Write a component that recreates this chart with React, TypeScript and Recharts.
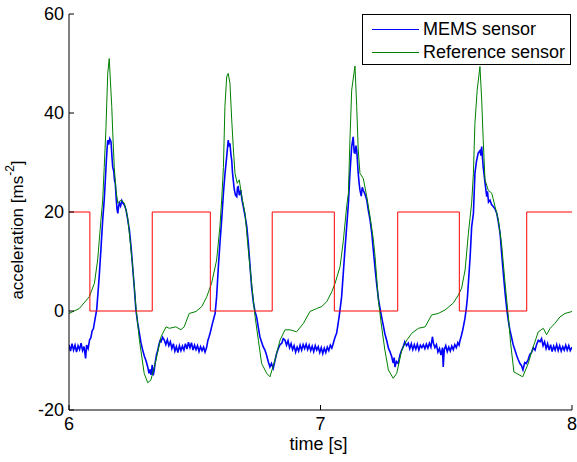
import { LineChart, Line, XAxis, YAxis, Label } from 'recharts';

// time [s] / acceleration [ms^-2]

// stimulus square wave (red)
const stimT = [6.0, 6.083, 6.331, 6.562, 6.808, 7.055, 7.307, 7.552, 7.82, 8.0];
const stimV = [20, 0, 20, 0, 20, 0, 20, 0, 20, 20];

// reference sensor (green)
const refT = [
  6.0, 6.041, 6.081, 6.101, 6.114, 6.127, 6.134, 6.14, 6.147, 6.154,
  6.16, 6.17, 6.174, 6.18, 6.187, 6.194, 6.207, 6.22, 6.233, 6.24,
  6.253, 6.266, 6.28, 6.299, 6.313, 6.326, 6.346, 6.366, 6.386, 6.399,
  6.425, 6.445, 6.458, 6.478, 6.505,
  6.528, 6.548, 6.567, 6.587, 6.6, 6.607, 6.614, 6.62, 6.627, 6.633,
  6.64, 6.647, 6.653, 6.66, 6.669, 6.677, 6.687, 6.7, 6.713, 6.726,
  6.74, 6.753, 6.766, 6.786, 6.799, 6.819, 6.839, 6.859, 6.879, 6.905,
  6.932, 6.958, 6.985, 7.005,
  7.025, 7.045, 7.058, 7.078, 7.091, 7.104, 7.111, 7.117, 7.124, 7.137,
  7.144, 7.15, 7.157, 7.17, 7.184, 7.197, 7.21, 7.217, 7.23, 7.243,
  7.256, 7.27, 7.289, 7.303, 7.323, 7.343, 7.363, 7.389, 7.416, 7.442,
  7.468, 7.495,
  7.528, 7.548, 7.561, 7.575, 7.588, 7.601, 7.608, 7.614, 7.623, 7.634,
  7.641, 7.647, 7.654, 7.667, 7.681, 7.694, 7.707, 7.72, 7.734, 7.747,
  7.756, 7.769, 7.804, 7.826, 7.846, 7.866, 7.886, 7.899, 7.913, 7.932,
  7.952, 7.972, 8.0,
];
const refV = [
  -0.5, 0.5, 2.9, 5.6, 10.3, 18.4, 22.4, 29, 37, 48,
  51, 41.3, 36, 29, 24.4, 21.8, 22.4, 21.8, 19, 15.7,
  9, 0.9, -5.9, -12.6, -14.5, -13.9, -9.9, -5.2, -3.2, -3.5,
  -3.2, -3.8, -3.2, -0.5, -0.1,
  0.9, 2.9, 5.6, 10.3, 17, 22.4, 29, 41.3, 47.3, 48,
  46, 38.6, 33.2, 27.8, 25.8, 26.5, 23.1, 19.7, 12.3, 5.6,
  -1.2, -5.9, -10.6, -12.6, -13.3, -9.9, -5.9, -3.8, -3.8, -4.2,
  -2.5, -0.1, 0.5, 0.9,
  1.9, 3.9, 5.6, 9, 14.3, 21.1, 23.8, 34.5, 44.6, 49.5,
  41.3, 32.5, 27.8, 26.8, 23.1, 19, 14.5, 11, 2.2, -3.2,
  -7.9, -11.9, -13.6, -12.6, -7.9, -5.9, -4.5, -3.5, -3.2, -0.8,
  -0.5, 0.2,
  1.6, 3.2, 4.6, 8.3, 15.7, 21.8, 27.8, 37.9, 44.6, 49.4,
  42.6, 34.5, 26.5, 24.4, 23.8, 21.1, 18.4, 13.5, 5.6, -1.2,
  -6.5, -12.3, -13.3, -10.6, -7.2, -4.2, -3.5, -4.8, -3.5, -2.5,
  -1.2, -0.5, -0.1,
];

// MEMS sensor (blue), noisy
const memsT = [
  6.0, 6.006, 6.012, 6.018, 6.024, 6.03, 6.036, 6.042, 6.048, 6.054,
  6.06, 6.066, 6.07, 6.076, 6.082, 6.087, 6.092, 6.097, 6.104, 6.11,
  6.115, 6.12, 6.127, 6.134, 6.14, 6.144, 6.147, 6.151, 6.154, 6.158,
  6.162, 6.167, 6.171, 6.174, 6.178, 6.181, 6.184, 6.188, 6.191, 6.194,
  6.197, 6.2, 6.205, 6.21, 6.214, 6.22, 6.227, 6.233, 6.24, 6.247,
  6.253, 6.26, 6.266, 6.273, 6.28, 6.286, 6.293, 6.3, 6.306, 6.313,
  6.318, 6.322, 6.326, 6.331, 6.335, 6.339, 6.344, 6.348, 6.353, 6.358,
  6.362, 6.366, 6.372, 6.379, 6.385, 6.391, 6.397, 6.403, 6.409, 6.415,
  6.421, 6.427, 6.433, 6.439, 6.445, 6.451, 6.457, 6.463, 6.469, 6.475,
  6.481, 6.487, 6.493, 6.499, 6.505, 6.511, 6.517, 6.523, 6.529, 6.535,
  6.541, 6.547, 6.552, 6.557, 6.562, 6.567, 6.572, 6.576, 6.581, 6.587,
  6.594, 6.6, 6.607, 6.614, 6.62, 6.627, 6.633, 6.637, 6.64, 6.644,
  6.647, 6.65, 6.653, 6.657, 6.662, 6.667, 6.67, 6.673, 6.677, 6.683,
  6.688, 6.693, 6.7, 6.707, 6.713, 6.72, 6.726, 6.733, 6.74, 6.746,
  6.753, 6.759, 6.766, 6.772, 6.779, 6.786, 6.792, 6.799, 6.805, 6.812,
  6.819, 6.826, 6.832, 6.839, 6.846, 6.852, 6.859, 6.865, 6.871, 6.877,
  6.883, 6.889, 6.895, 6.901, 6.907, 6.913, 6.919, 6.925, 6.931, 6.937,
  6.943, 6.949, 6.955, 6.961, 6.967, 6.973, 6.979, 6.985, 6.991, 6.997,
  7.003, 7.009, 7.015, 7.021, 7.027, 7.033, 7.039, 7.045, 7.051, 7.056,
  7.06, 7.064, 7.069, 7.074, 7.079, 7.084, 7.09, 7.097, 7.104, 7.111,
  7.117, 7.124, 7.13, 7.134, 7.137, 7.141, 7.144, 7.147, 7.15, 7.154,
  7.157, 7.162, 7.166, 7.17, 7.177, 7.184, 7.19, 7.197, 7.204, 7.21,
  7.217, 7.223, 7.23, 7.237, 7.243, 7.25, 7.256, 7.263, 7.27, 7.276,
  7.283, 7.289, 7.293, 7.296, 7.302, 7.309, 7.316, 7.322, 7.329, 7.335,
  7.342, 7.349, 7.355, 7.361, 7.367, 7.373, 7.379, 7.385, 7.391, 7.397,
  7.403, 7.409, 7.415, 7.421, 7.427, 7.433, 7.439, 7.445, 7.449, 7.455,
  7.461, 7.467, 7.473, 7.479, 7.485, 7.488, 7.492, 7.498, 7.504, 7.51,
  7.516, 7.522, 7.528, 7.534, 7.54, 7.546, 7.551, 7.555, 7.56, 7.564,
  7.568, 7.574, 7.579, 7.584, 7.588, 7.595, 7.601, 7.608, 7.614, 7.62,
  7.627, 7.634, 7.638, 7.641, 7.644, 7.647, 7.654, 7.661, 7.664, 7.668,
  7.674, 7.68, 7.687, 7.694, 7.701, 7.707, 7.714, 7.72, 7.727, 7.734,
  7.741, 7.747, 7.753, 7.76, 7.766, 7.773, 7.78, 7.786, 7.793, 7.799,
  7.805, 7.812, 7.818, 7.825, 7.832, 7.839, 7.846, 7.853, 7.859, 7.866,
  7.873, 7.879, 7.885, 7.891, 7.897, 7.903, 7.909, 7.915, 7.921, 7.927,
  7.933, 7.939, 7.945, 7.951, 7.957, 7.963, 7.969, 7.975, 7.981, 7.987,
  7.993, 8.0,
];
const memsV = [
  -6.8, -8.1, -6.6, -7.9, -6.9, -8.3, -7.0, -7.8, -6.5, -8.0,
  -7.2, -9.6, -6.9, -7.6, -5.8, -5.4, -4.0, -3.6, -1.5, 0.2,
  3.5, 6.9, 12.5, 18.4, 22.4, 26.0, 29.0, 32.5, 34.5, 33.6,
  34.8, 34.2, 31.0, 29.0, 28.2, 26.4, 25.8, 22.5, 20.6, 19.7,
  21.0, 21.8, 21.2, 22.3, 21.8, 21.4, 20.4, 18.6, 16.4, 12.8,
  9.0, 4.5, 0.2, -2.4, -4.5, -6.4, -7.9, -9.2, -10.0, -11.3,
  -12.6, -11.8, -12.9, -10.9, -13.0, -11.9, -10.0, -8.8, -7.9, -6.7,
  -6.0, -6.2, -5.3, -5.9, -6.8, -5.8, -7.0, -6.2, -7.6, -6.6,
  -8.1, -7.2, -8.4, -7.0, -8.0, -7.1, -7.9, -6.6, -7.7, -6.3,
  -7.4, -6.4, -7.9, -6.9, -7.8, -7.0, -8.2, -7.2, -8.0, -7.3,
  -8.3, -7.4, -6.0, -5.2, -4.3, -3.2, -2.2, -1.4, -0.5, 2.9,
  9.0, 13.6, 18.4, 23.8, 27.6, 31.2, 34.5, 33.2, 33.9, 31.5,
  30.5, 28.0, 26.5, 24.6, 23.4, 23.1, 25.0, 25.1, 23.4, 24.4,
  22.4, 21.1, 19.2, 17.0, 13.7, 9.0, 4.9, 1.8, -0.2, -1.2,
  -3.4, -5.2, -6.3, -7.2, -7.9, -9.0, -10.2, -11.3, -10.6, -11.6,
  -10.0, -8.5, -7.6, -6.8, -6.5, -5.6, -5.9, -6.9, -6.0, -7.4,
  -6.6, -7.8, -7.0, -8.3, -7.3, -8.1, -6.9, -7.9, -6.8, -7.6,
  -6.7, -7.8, -6.9, -8.0, -7.1, -8.2, -7.0, -7.9, -7.2, -8.4,
  -7.4, -8.6, -7.5, -8.4, -7.3, -8.0, -6.9, -7.5, -6.5, -5.6,
  -5.0, -4.5, -2.9, -1.2, 0.8, 2.9, 7.2, 12.3, 17.0, 21.8,
  27.8, 33.2, 35.2, 32.0, 31.9, 33.4, 32.5, 30.2, 27.8, 25.6,
  24.4, 23.2, 25.0, 24.4, 23.6, 22.4, 20.4, 18.4, 15.7, 12.3,
  8.6, 5.6, 2.6, 0.4, -1.2, -3.0, -4.6, -5.9, -7.5, -8.2,
  -9.2, -10.5, -9.4, -11.3, -10.2, -10.6, -8.9, -8.0, -7.2, -6.2,
  -7.0, -6.5, -7.6, -6.6, -7.8, -6.8, -7.7, -6.7, -7.9, -6.9,
  -7.4, -6.8, -7.6, -6.7, -7.5, -6.5, -7.3, -5.2, -6.5, -7.4,
  -6.8, -8.3, -7.6, -8.9, -7.4, -11.3, -7.8, -7.0, -8.2, -7.3,
  -8.1, -7.1, -7.8, -6.8, -7.4, -6.4, -6.9, -5.9, -5.0, -4.2,
  -3.2, -1.6, 0.2, 2.6, 5.6, 11.0, 17.0, 19.7, 27.8, 30.2,
  31.9, 32.4, 31.4, 33.2, 31.0, 29.1, 26.0, 23.1, 24.2, 22.0,
  22.4, 21.5, 21.1, 20.6, 19.7, 18.0, 15.7, 11.8, 7.6, 3.6,
  0.2, -2.0, -3.8, -5.4, -6.8, -7.9, -9.0, -9.8, -10.6, -11.0,
  -11.9, -10.4, -10.6, -9.9, -8.8, -8.4, -7.4, -7.9, -6.8, -5.9,
  -6.2, -5.6, -7.0, -6.2, -7.6, -6.6, -7.9, -6.8, -8.2, -7.1,
  -7.9, -6.8, -8.0, -7.0, -8.1, -7.2, -7.9, -6.9, -7.9, -7.0,
  -8.0, -7.3,
];

const xTicks = [6, 7, 8];
const yTicks = [-20, 0, 20, 40, 60];

const FONT = '"Liberation Sans", Arial, sans-serif';

const toPoints = (ts: number[], vs: number[]) => ts.map((t, i) => ({ t, v: vs[i] }));

const mems = toPoints(memsT, memsV);
const ref = toPoints(refT, refV);
const stim = toPoints(stimT, stimV);

function YLabel({ viewBox }: any) {
  const cx = viewBox.x + 8;
  const cy = viewBox.y + viewBox.height / 2 + 18;
  return (
    <text
      x={cx}
      y={cy}
      transform={`rotate(-90, ${cx}, ${cy})`}
      textAnchor="middle"
      dominantBaseline="central"
      fontSize={17}
      fontFamily={FONT}
      fill="#000"
    >
      acceleration [ms<tspan dy={-7} fontSize={12}>-2</tspan>
      <tspan dy={7}>]</tspan>
    </text>
  );
}

function XLabel({ viewBox }: any) {
  return (
    <text
      x={viewBox.x + viewBox.width / 2 - 2}
      y={viewBox.y + 40}
      textAnchor="middle"
      fontSize={18}
      fontFamily={FONT}
      fill="#000"
    >
      time [s]
    </text>
  );
}

const legendItems = [
  { name: 'MEMS sensor', color: '#0000ff' },
  { name: 'Reference sensor', color: '#008000' },
];

export default function App() {
  const tickStyle = { fill: '#000', fontSize: 18, fontFamily: FONT };
  return (
    <div style={{ position: 'absolute', left: 0, top: 0, width: 577, height: 462, background: '#fff', fontFamily: FONT }}>
      <LineChart width={577} height={462} margin={{ top: 14, right: 5, bottom: 0, left: 9 }}>
        <XAxis
          dataKey="t"
          type="number"
          domain={[6, 8]}
          ticks={xTicks}
          interval={0}
          height={52}
          tickSize={-5}
          tickMargin={12}
          tick={tickStyle}
          axisLine={{ stroke: '#000' }}
          tickLine={{ stroke: '#000' }}
          allowDataOverflow
        >
          <Label content={XLabel} />
        </XAxis>
        <XAxis
          xAxisId="top"
          orientation="top"
          type="number"
          domain={[6, 8]}
          ticks={xTicks}
          interval={0}
          height={0}
          tickSize={-5}
          tickFormatter={() => ''}
          axisLine={{ stroke: '#000' }}
          tickLine={{ stroke: '#000' }}
        />
        <YAxis
          type="number"
          domain={[-20, 60]}
          ticks={yTicks}
          interval={0}
          width={60}
          tickSize={-5}
          tickMargin={10}
          tick={tickStyle}
          axisLine={{ stroke: '#000' }}
          tickLine={{ stroke: '#000' }}
          allowDataOverflow
        >
          <Label content={YLabel} />
        </YAxis>
        <YAxis
          yAxisId="right"
          orientation="right"
          type="number"
          domain={[-20, 60]}
          ticks={yTicks}
          interval={0}
          width={0}
          tickSize={-5}
          tickFormatter={() => ''}
          axisLine={{ stroke: '#000' }}
          tickLine={{ stroke: '#000' }}
        />
        <Line data={mems} dataKey="v" type="linear" stroke="#0000ff" strokeWidth={1.6} dot={false} isAnimationActive={false} />
        <Line data={ref} dataKey="v" type="linear" stroke="#008000" strokeWidth={1} dot={false} isAnimationActive={false} />
        <Line data={stim} dataKey="v" type="stepAfter" stroke="#ff0000" strokeWidth={1} dot={false} isAnimationActive={false} />
      </LineChart>
      <div
        style={{
          position: 'absolute',
          left: 362,
          top: 14,
          width: 209,
          height: 51,
          border: '1px solid #000',
          background: '#fff',
          boxSizing: 'border-box',
        }}
      >
        {legendItems.map((item, i) => (
          <div
            key={item.name}
            style={{ position: 'absolute', left: 0, top: 3 + i * 23, height: 23, display: 'flex', alignItems: 'center' }}
          >
            <svg width={58} height={23}>
              <line x1={9} x2={56} y1={11.5} y2={11.5} stroke={item.color} strokeWidth={1} />
            </svg>
            <span style={{ fontSize: 18, marginLeft: 2, color: '#000', whiteSpace: 'nowrap' }}>{item.name}</span>
          </div>
        ))}
      </div>
    </div>
  );
}
